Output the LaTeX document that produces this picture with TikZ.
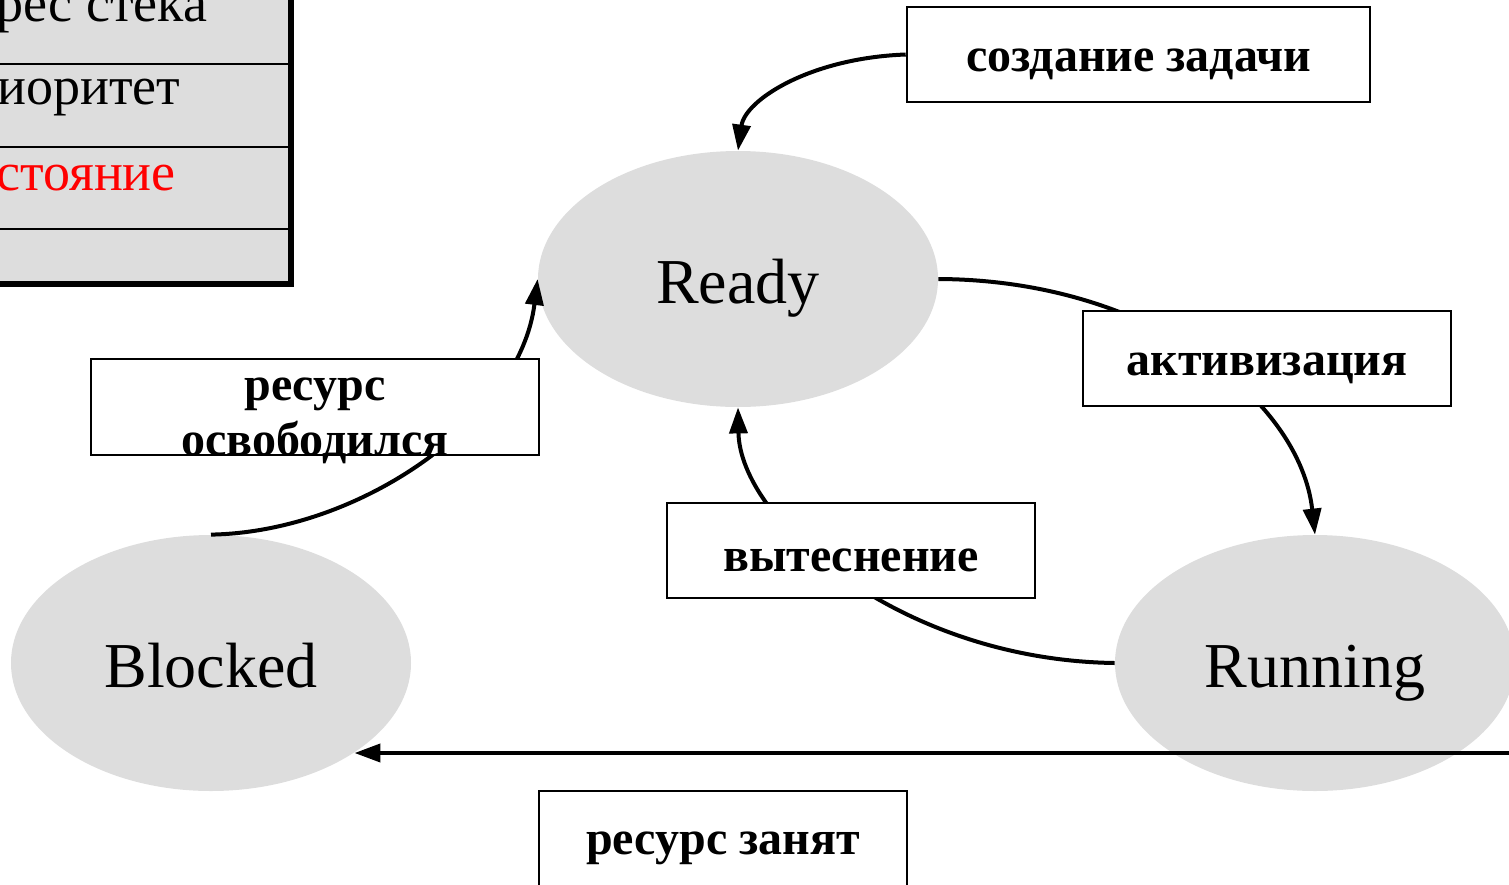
\documentclass[tikz,border=0pt]{standalone}
\usepackage{fontspec}
\setmainfont{Liberation Serif}
\usetikzlibrary{shapes.geometric,arrows.meta}
\definecolor{stategray}{HTML}{DDDDDD}
\newcommand\lowertext[1]{\raisebox{-5pt}[\height][\depth]{#1}}
\begin{document}
\begin{tikzpicture}[x=0.5pt,y=-0.5pt,
  state/.style={ellipse,fill=stategray,minimum width=200pt,minimum height=128pt,inner sep=0pt,text height=24pt,text depth=0pt,font=\fontsize{32}{38}\selectfont},
  evbox/.style={draw,fill=white,line width=1.3pt,inner sep=0pt,font=\bfseries\fontsize{24}{27.5}\selectfont},
  conn/.style={line width=2pt},
  arr/.style={conn,-{Triangle[length=13pt,width=9pt]}},
  cell/.style={anchor=base west,inner sep=0pt,font=\fontsize{27}{31}\selectfont}]
\clip (0,0) rectangle (1509,884);
% table fragment
\fill[stategray] (-10,-10) rectangle (291,284);
\draw[line width=1.2pt] (-10,64) -- (291,64);
\draw[line width=1.2pt] (-10,147) -- (291,147);
\draw[line width=1.2pt] (-10,229) -- (291,229);
\draw[line width=2.6pt] (-10,284) -- (291,284) -- (291,-10);
\node[cell] (t1) at (-4,21) {рес стека};
\node[cell] (t2) at (-3,104) {иоритет};
\node[cell,text=red] (t3) at (-4,190) {стояние};
% states
\node[state] (ready) at (738,279) {Ready};
\node[state] (blocked) at (211,663) {Blocked};
\node[state] (running) at (1315,663) {Running};
% creation box
\node[evbox,minimum width=231.5pt,minimum height=47.5pt] (create) at (1138.5,54.5) {\lowertext{создание задачи}};
% connectors
\draw[arr] (create.west) .. controls (810,58) and (745,100) .. (ready.north);
\draw[arr] (ready.east) .. controls (1150,280) and (1300,400) .. (running.north);
\draw[arr] (running.west) .. controls (900,660) and (740,520) .. (ready.south);
\draw[arr] (blocked.north) .. controls (360,532) and (520,420) .. (ready.west);
\coordinate (rb) at (1530,753);
\draw[arr] (rb) -- (rb -| blocked.-32.4);
% event boxes
\node[evbox,minimum width=184pt,minimum height=47.5pt] (act) at (1267,358.5) {\lowertext{активизация}};
\node[evbox,minimum width=184pt,minimum height=47.5pt] (pre) at (851,550.5) {\lowertext{вытеснение}};
\node[evbox,minimum width=224pt,minimum height=48pt] (rel) at (315,407) {\raisebox{-11pt}[0pt][0pt]{\begin{tabular}{@{}c@{}}ресурс\\освободился\end{tabular}}};
\node[evbox,minimum width=184pt,minimum height=47.5pt] (busy) at (723,838.5) {\lowertext{ресурс занят}};
\end{tikzpicture}
\end{document}
